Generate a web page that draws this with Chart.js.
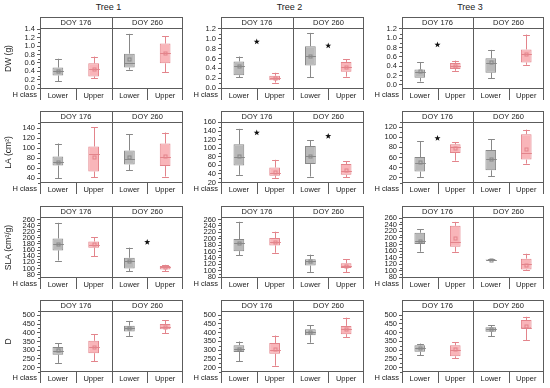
<!DOCTYPE html>
<html><head><meta charset="utf-8">
<script src="https://cdn.jsdelivr.net/npm/chart.js@4.4.1/dist/chart.umd.min.js"></script>
<style>
html,body{margin:0;padding:0;background:#fff;}
#wrap{position:relative;width:550px;height:388px;overflow:hidden;font-family:"Liberation Sans",Arial,sans-serif;}
canvas{position:absolute;}
.tt{position:absolute;top:2px;font-size:9px;line-height:11px;color:#222;transform:translateX(-50%);white-space:nowrap;}
</style></head><body><div id="wrap"></div>
<script>
// ---------------- data ----------------
const trees = ['Tree 1', 'Tree 2', 'Tree 3'];
const doyLabels = ['DOY 176', 'DOY 260'];
const hClass = ['Lower', 'Upper', 'Lower', 'Upper'];
const variables = ['DW (g)', 'LA (cm²)', 'SLA (cm²/g)', 'D'];

// each row: [whisker low, Q1, median, mean, Q3, whisker high]
// order: DOY176 Lower, DOY176 Upper, DOY260 Lower, DOY260 Upper
const dwTree1 = [[0.17,0.30,0.41,0.41,0.49,0.70],[0.23,0.28,0.45,0.45,0.59,0.75],[0.44,0.49,0.60,0.69,0.82,1.29],[0.38,0.59,0.83,0.83,1.06,1.24]];
const dwTree2 = [[0.22,0.26,0.45,0.44,0.54,0.64],[0.11,0.16,0.20,0.20,0.25,0.31],[0.22,0.46,0.66,0.66,0.85,1.12],[0.23,0.33,0.43,0.43,0.53,0.58]];
const dwTree3 = [[0.07,0.15,0.28,0.29,0.33,0.49],[0.30,0.34,0.40,0.41,0.47,0.52],[0.14,0.26,0.47,0.49,0.57,0.75],[0.43,0.48,0.67,0.67,0.76,1.08]];
const laTree1 = [[40,65,73,73,83,109],[42,53,89,83,103,142],[56,67,78,82,95,128],[43,64,83,85,109,131]];
const laTree2 = [[38,60,80,83,109,145],[31,36,42,45,55,73],[34,63,81,82,105,118],[32,38,46,49,63,70]];
const laTree3 = [[22,32.5,50,51,61,92],[54,69,81,79,86,90],[23,35,57.5,57.5,75,96],[48,56,69,77,106,115]];
const slaTree1 = [[126,159,180,180,198,249],[140,168,177,179,188,202],[92,100,123,125,135,168],[92,97,104,104,108,112]];
const slaTree2 = [[148,161,187,187,199,253],[156,179,189,189,202,222],[96,116,130,129,136,150],[95,108,116,116,123,135]];
const slaTree3 = [[158,182,192,192,216,226],[158,173,189,201,237,249],[132,132.5,133.5,133.5,134.5,135],[102,104,120,118,137,152]];
const dTree1 = [[227,274,297,299,318,340],[238,283,318,320,354,392],[382,407,426,426,441,468],[397,420,433,433,450,471]];
const dTree2 = [[236,289,308,308,328,349],[211,279,302,304,340,383],[342,385,406,406,419,441],[375,391,419,419,438,485]];
const dTree3 = [[270,291,310,314,327,337],[253,265,299,304,327,344],[380,405,418,420,430,441],[357,424,428,439,471,490]];

// significance stars: [category position, value]
const dwStars = [[], [[0.5,0.94],[2.5,0.86]], [[0.5,0.86]]];
const laStars = [[], [[0.5,136],[2.5,128]], [[0.5,98]]];
const slaStars = [[[2.5,186]], [], []];
const dStars = [[], [], []];

// axis ranges per tree
const dwRange = [[-0.02,1.43],[-0.02,1.22],[-0.09,1.22]];
const laRange = [[30,152],[19,161],[10,130]];
const slaRange = [[69,268],[77,268],[78,264]];
const dRange = [[175,525],[175,523],[175,523]];
const tickSteps = [0.2, 20, 20, 50];
const tickDecimals = [1, 0, 0, 0];

// ---------------- style / layout ----------------
const FONT = '"Liberation Sans", Arial, sans-serif';
const TXT = '#222';
const FRAME = '#5c5c5c';
const GRAY_FILL = '#b9b9b9', GRAY_LINE = '#888888';
const PINK_FILL = '#f9b5b9', PINK_LINE = '#e3848b';
const frameLeft = [40, 221, 402];
const frameWidth = [143, 143, 142];
const plotTop = [28, 122, 217, 311];
const HEADER = 11, PLOT = 61, HROW = 11;

const rows = [
  {boxes: [dwTree1, dwTree2, dwTree3], stars: dwStars, ranges: dwRange},
  {boxes: [laTree1, laTree2, laTree3], stars: laStars, ranges: laRange},
  {boxes: [slaTree1, slaTree2, slaTree3], stars: slaStars, ranges: slaRange},
  {boxes: [dTree1, dTree2, dTree3], stars: dStars, ranges: dRange}
];

const wrap = document.getElementById('wrap');

trees.forEach((t, c) => {
  const d = document.createElement('div');
  d.className = 'tt';
  d.textContent = t;
  d.style.left = (frameLeft[c] + frameWidth[c] / 2 - 3) + 'px';
  wrap.appendChild(d);
});

function line(ctx, x1, y1, x2, y2) {
  ctx.beginPath(); ctx.moveTo(x1, y1); ctx.lineTo(x2, y2); ctx.stroke();
}
function star(ctx, x, y, ro, ri) {
  ctx.beginPath();
  for (let k = 0; k < 10; k++) {
    const a = -Math.PI / 2 + k * Math.PI / 5;
    const r = k % 2 ? ri : ro;
    const px = x + r * Math.cos(a), py = y + r * Math.sin(a);
    if (k === 0) ctx.moveTo(px, py); else ctx.lineTo(px, py);
  }
  ctx.closePath(); ctx.fill();
}

function makePlugin(boxes, stars, isMajor) {
  return {
    id: 'panelDeco',
    afterDatasetsDraw(chart) {
      const ctx = chart.ctx, y = chart.scales.y;
      const meta = chart.getDatasetMeta(0);
      const px = v => y.getPixelForValue(v);
      ctx.save();
      ctx.lineWidth = 1;
      boxes.forEach((b, i) => {
        const el = meta.data[i];
        const x = Math.round(el.x) + 0.5;
        const w = el.width;
        const col = i % 2 ? PINK_LINE : GRAY_LINE;
        ctx.strokeStyle = col; ctx.fillStyle = col;
        const cap = w * 0.32;
        line(ctx, x, px(b[0]), x, px(b[1]));
        line(ctx, x, px(b[4]), x, px(b[5]));
        line(ctx, x - cap, Math.round(px(b[0])) + 0.5, x + cap, Math.round(px(b[0])) + 0.5);
        line(ctx, x - cap, Math.round(px(b[5])) + 0.5, x + cap, Math.round(px(b[5])) + 0.5);
        line(ctx, x - w / 2, Math.round(px(b[2])) + 0.5, x + w / 2, Math.round(px(b[2])) + 0.5);
        ctx.strokeRect(x - 1.5, Math.round(px(b[3])) - 1, 3, 3);
      });
      ctx.fillStyle = '#111';
      stars.forEach(s => {
        const i0 = Math.floor(s[0]);
        const a = meta.data[i0].x, bb = meta.data[i0 + 1].x;
        const sx = a + (bb - a) * (s[0] - i0);
        star(ctx, sx, px(s[1]), 3.2, 1.3);
      });
      ctx.restore();
    },
    afterDraw(chart) {
      const ctx = chart.ctx, ca = chart.chartArea, y = chart.scales.y;
      const L = ca.left, R = ca.right, T = ca.top, B = ca.bottom;
      const HT = T - HEADER, HB = B + HROW;
      const mid = Math.round((L + R) / 2);
      ctx.save();
      ctx.strokeStyle = FRAME; ctx.lineWidth = 1;
      ctx.strokeRect(L + 0.5, HT + 0.5, R - L - 1, B - HT - 1);
      line(ctx, L, T + 0.5, R, T + 0.5);
      line(ctx, mid + 0.5, HT, mid + 0.5, HB);
      line(ctx, L + 0.5, B, L + 0.5, HB);
      line(ctx, R - 0.5, B, R - 0.5, HB);
      const q1 = Math.round(L + (R - L) / 4), q3 = Math.round(L + 3 * (R - L) / 4);
      line(ctx, q1 + 0.5, B, q1 + 0.5, HB);
      line(ctx, q3 + 0.5, B, q3 + 0.5, HB);
      // minor ticks
      y.ticks.forEach(t => {
        if (!isMajor(t.value)) {
          const yy = Math.round(y.getPixelForValue(t.value)) + 0.5;
          line(ctx, L - 2, yy, L, yy);
        }
      });
      ctx.fillStyle = TXT;
      ctx.font = '7.5px ' + FONT;
      ctx.textAlign = 'center'; ctx.textBaseline = 'middle';
      ctx.fillText(doyLabels[0], (L + mid) / 2, HT + HEADER / 2 + 0.5);
      ctx.fillText(doyLabels[1], (mid + R) / 2, HT + HEADER / 2 + 0.5);
      ctx.font = '7.5px ' + FONT;
      ctx.textAlign = 'right';
      ctx.fillText('H class', L - 3, B + HROW / 2 + 0.5);
      ctx.restore();
    }
  };
}

function makePanel(r, c) {
  const row = rows[r];
  const boxes = row.boxes[c], stars = row.stars[c], range = row.ranges[c];
  const step = tickSteps[r], dec = tickDecimals[r];
  const yW = c === 0 ? 40 : 30;
  const W = yW + frameWidth[c] + 2, H = 1 + HEADER + PLOT + HROW + 3;
  const cv = document.createElement('canvas');
  cv.width = W; cv.height = H;
  cv.style.width = W + 'px'; cv.style.height = H + 'px';
  cv.style.left = (frameLeft[c] - yW) + 'px';
  cv.style.top = (plotTop[r] - HEADER - 1) + 'px';
  wrap.appendChild(cv);
  const half = step / 2;
  const tickVals = [];
  for (let k = Math.ceil(range[0] / half - 1e-9); k * half <= range[1] + 1e-9; k++) tickVals.push(+(k * half).toFixed(6));
  const isMajor = v => Math.abs(v / step - Math.round(v / step)) < 1e-6;
  new Chart(cv, {
    type: 'bar',
    data: {
      labels: hClass,
      datasets: [{
        data: boxes.map(b => [b[1], b[4]]),
        backgroundColor: boxes.map((b, i) => i % 2 ? PINK_FILL : GRAY_FILL),
        borderColor: boxes.map((b, i) => i % 2 ? PINK_LINE : GRAY_LINE),
        borderWidth: 1,
        borderSkipped: false,
        categoryPercentage: 1,
        barPercentage: 0.3
      }]
    },
    options: {
      responsive: false, animation: false, devicePixelRatio: 1,
      layout: {padding: {top: HEADER + 1, right: 2, bottom: 3, left: 0}},
      plugins: {legend: {display: false}, tooltip: {enabled: false}},
      scales: {
        x: {
          type: 'category',
          grid: {display: false, drawTicks: false},
          border: {display: false},
          ticks: {font: {family: FONT, size: 7.5}, color: TXT, padding: 2, maxRotation: 0, autoSkip: false},
          afterFit: s => { s.height = HROW; }
        },
        y: {
          type: 'linear', min: range[0], max: range[1], bounds: 'data', beginAtZero: false,
          grid: {drawOnChartArea: false, drawTicks: true, tickLength: 3,
                 tickColor: ctx => (ctx.tick && isMajor(ctx.tick.value)) ? FRAME : 'rgba(0,0,0,0)'},
          border: {display: false},
          ticks: {autoSkip: false, font: {family: FONT, size: 7.5}, color: TXT, padding: 2,
                  callback: v => isMajor(v) ? Number(v).toFixed(dec) : ''},
          afterBuildTicks: s => { s.ticks = tickVals.map(v => ({value: v})); },
          afterFit: s => { s.width = yW; },
          title: c === 0 ? {display: true, text: variables[r], font: {family: FONT, size: 8.5}, color: TXT, padding: {top: 4, bottom: 0}} : {display: false}
        }
      }
    },
    plugins: [makePlugin(boxes, stars, isMajor)]
  });
}

for (let r = 0; r < 4; r++) for (let c = 0; c < 3; c++) makePanel(r, c);
</script></body></html>
